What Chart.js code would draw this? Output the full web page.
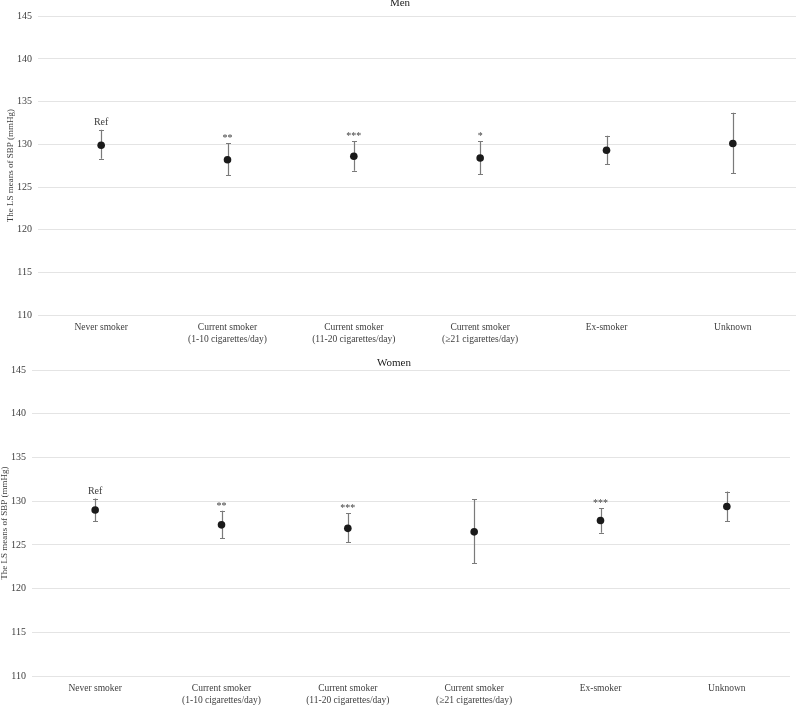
<!DOCTYPE html>
<html>
<head>
<meta charset="utf-8">
<script src="https://cdn.jsdelivr.net/npm/chart.js@4"></script>
<style>
  html, body { margin: 0; padding: 0; background: #fff; overflow: hidden; }
  body { width: 800px; height: 705px; position: relative; }
  .box { position: absolute; width: 800px; }
  #top-box { left: 0; top: 0; height: 352px; }
  #bottom-box { left: -6px; top: 345px; height: 368px; }
</style>
</head>
<body>
<div class="box" id="top-box"><canvas id="men-chart"></canvas></div>
<div class="box" id="bottom-box"><canvas id="women-chart"></canvas></div>
<script>
// categories on the x axis
const categories = [
    ['Never smoker'],
    ['Current smoker', '(1-10 cigarettes/day)'],
    ['Current smoker', '(11-20 cigarettes/day)'],
    ['Current smoker', '(\u226521 cigarettes/day)'],
    ['Ex-smoker'],
    ['Unknown']
];

// Men: LS mean and 95% CI
const menMean = [129.9, 128.2, 128.6, 128.4, 129.3, 130.1];
const menLow  = [128.3, 126.4, 126.9, 126.5, 127.7, 126.6];
const menHigh = [131.7, 130.1, 130.4, 130.4, 131.0, 133.7];
const menSig  = ['Ref', '**', '***', '*', '', ''];

// Women: LS mean and 95% CI
const womenMean = [129.0, 127.3, 126.9, 126.5, 127.8, 129.4];
const womenLow  = [127.7, 125.8, 125.3, 122.9, 126.4, 127.7];
const womenHigh = [130.3, 128.9, 128.6, 130.2, 129.2, 131.1];
const womenSig  = ['Ref', '**', '***', '', '***', ''];

// y axis
const yMin = 110;
const yMax = 145;
const yStep = 5;

const serif = "'Liberation Serif', 'Times New Roman', serif";

// error bars + significance marks, drawn through the chart scales
const errorBarPlugin = {
    id: 'errorBars',
    beforeDatasetsDraw(chart) {
        const ctx = chart.ctx;
        const ds = chart.data.datasets[0];
        const xs = chart.scales.x;
        const ys = chart.scales.y;
        ctx.save();
        ctx.strokeStyle = '#7a7a7a';
        ctx.lineWidth = 1.2;
        ds.data.forEach((v, i) => {
            const x = Math.round(xs.getPixelForValue(i)) + 0.5;
            const yHi = ys.getPixelForValue(ds.high[i]);
            const yLo = ys.getPixelForValue(ds.low[i]);
            ctx.beginPath();
            ctx.moveTo(x, yHi);
            ctx.lineTo(x, yLo);
            ctx.moveTo(x - 2.5, Math.round(yHi) + 0.5);
            ctx.lineTo(x + 2.5, Math.round(yHi) + 0.5);
            ctx.moveTo(x - 2.5, Math.round(yLo) + 0.5);
            ctx.lineTo(x + 2.5, Math.round(yLo) + 0.5);
            ctx.stroke();
        });
        ctx.fillStyle = '#404040';
        ctx.font = '10px ' + serif;
        ctx.textAlign = 'center';
        ctx.textBaseline = 'alphabetic';
        ds.sig.forEach((s, i) => {
            if (!s) return;
            const x = xs.getPixelForValue(i);
            const y = ys.getPixelForValue(ds.high[i]) - 5;
            ctx.fillText(s, x, s === 'Ref' ? y : y + 3);
        });
        ctx.restore();
    }
};

function makeChart(canvasId, title, mean, low, high, sig, titlePad) {
    const ctx = document.getElementById(canvasId).getContext('2d');
    return new Chart(ctx, {
        type: 'line',
        data: {
            labels: categories,
            datasets: [{
                data: mean,
                low: low,
                high: high,
                sig: sig,
                showLine: false,
                pointRadius: 3.8,
                pointBackgroundColor: '#1a1a1a',
                pointBorderColor: '#1a1a1a',
                pointBorderWidth: 0
            }]
        },
        options: {
            responsive: true,
            maintainAspectRatio: false,
            animation: false,
            layout: { padding: { left: 1, right: 1, top: 0, bottom: 0 } },
            plugins: {
                legend: { display: false },
                tooltip: { enabled: false },
                title: {
                    display: true,
                    text: title,
                    color: '#1a1a1a',
                    font: { family: serif, size: 11, weight: 'normal', lineHeight: 1.2 },
                    padding: titlePad
                }
            },
            scales: {
                x: {
                    type: 'category',
                    offset: true,
                    grid: { display: false, drawTicks: false },
                    border: { display: false },
                    ticks: {
                        color: '#404040',
                        padding: 7,
                        maxRotation: 0,
                        autoSkip: false,
                        font: { family: serif, size: 9.5, lineHeight: 1.2 }
                    }
                },
                y: {
                    min: yMin,
                    max: yMax,
                    afterFit(scale) { scale.width = 37; },
                    grid: { color: '#e4e4e4', lineWidth: 1, drawTicks: false },
                    border: { display: false },
                    ticks: {
                        stepSize: yStep,
                        color: '#404040',
                        padding: 6,
                        font: { family: serif, size: 10 }
                    },
                    title: {
                        display: true,
                        text: 'The LS means of SBP (mmHg)',
                        color: '#404040',
                        padding: { top: 4, bottom: 0 },
                        font: { family: serif, size: 9, lineHeight: 1.2 }
                    }
                }
            }
        },
        plugins: [errorBarPlugin]
    });
}

makeChart('men-chart', 'Men', menMean, menLow, menHigh, menSig, { top: -3, bottom: 6 });
makeChart('women-chart', 'Women', womenMean, womenLow, womenHigh, womenSig, { top: 11.4, bottom: 0.4 });
</script>
</body>
</html>
